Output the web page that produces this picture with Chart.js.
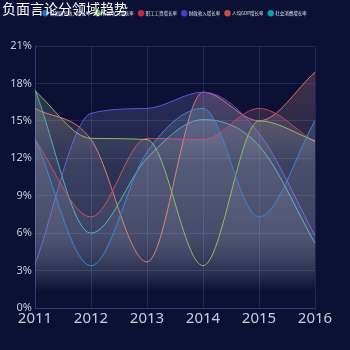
<!DOCTYPE html>
<html>
<head>
<meta charset="utf-8">
<script src="https://cdn.jsdelivr.net/npm/chart.js@4"></script>
<style>
  html, body { margin: 0; padding: 0; background: #0b1034; }
  #wrap { position: relative; width: 350px; height: 350px; }
  #title { position: absolute; left: 2px; top: -2px; color: #fff; font: 14px "Noto Sans CJK SC", sans-serif; }
</style>
</head>
<body>
<div id="wrap">
  <div id="title">负面言论分领域趋势</div>
  <canvas id="trendChart" width="350" height="350"></canvas>
</div>
<script>
"use strict";

// 数据
const years = ["2011", "2012", "2013", "2014", "2015", "2016"];
const seriesNames = ["城镇居民收入增长率", "农民收入增长率", "职工工资增长率", "财政收入增长率", "人均GDP增长率", "社会消费增长率"];
const townIncome = [13.6, 3.4, 12.5, 16.0, 7.3, 15.0];
const farmerIncome = [17.4, 13.6, 13.5, 3.4, 15.0, 13.4];
const wages = [13.5, 7.3, 13.6, 13.5, 16.0, 13.3];
const revenue = [3.5, 15.6, 16.0, 17.3, 14.0, 5.8];
const gdpPerCapita = [16.0, 13.5, 3.7, 17.3, 15.0, 18.9];
const consumption = [17.5, 6.0, 12.0, 15.1, 13.0, 5.2];
const yTicks = [0, 3, 6, 9, 12, 15, 18, 21];

const lineColors = ["#3a8ad8", "#8cbc5c", "#d4405c", "#6650d8", "#e2705a", "#22b2b2"];
const legendColors = ["#1c6ed2", "#5aa23c", "#c4283e", "#4a3cc8", "#c4503c", "#0aa0a8"];
const allData = [townIncome, farmerIncome, wages, revenue, gdpPerCapita, consumption];

function hexToRgba(hex, a) {
    let n = parseInt(hex.slice(1), 16);
    return "rgba(" + (n >> 16) + "," + ((n >> 8) & 255) + "," + (n & 255) + "," + a + ")";
}

// gradient fyllning
function makeFill(color) {
    return function(ctx) {
        let area = ctx.chart.chartArea;
        if (!area) return "transparent";
        let g = ctx.chart.ctx.createLinearGradient(0, area.top, 0, area.bottom);
        g.addColorStop(0, hexToRgba(color, 0.32));
        g.addColorStop(0.45, "rgba(190,195,215,0.1)");
        g.addColorStop(0.72, "rgba(190,195,215,0.08)");
        g.addColorStop(0.8, "rgba(190,195,215,0.06)");
        g.addColorStop(0.94, "rgba(190,195,215,0)");
        return g;
    };
}

const datasets = allData.map((d, i) => ({
    label: seriesNames[i],
    data: d,
    borderColor: lineColors[i],
    backgroundColor: makeFill(lineColors[i]),
    borderWidth: 1,
    pointRadius: 0,
    fill: "origin",
    cubicInterpolationMode: "monotone"
}));

// luft under legenden + centrera den över hela bredden
const legendSpace = {
    id: "legendSpace",
    beforeInit(chart) {
        const fit = chart.legend.fit;
        chart.legend.fit = function() {
            fit.call(this);
            this.height = 40;
        };
    },
    afterUpdate(chart) {
        chart.legend.left = 0;
        chart.legend.right = 350;
        chart.legend.width = 350;
        chart.legend.adjustHitBoxes();
    }
};

const chartEl = document.getElementById("trendChart");

new Chart(chartEl, {
    type: "line",
    data: { labels: years, datasets: datasets },
    plugins: [legendSpace],
    options: {
        responsive: false,
        animation: false,
        layout: { padding: { top: 6, right: 35, bottom: 0, left: 0 } },
        plugins: {
            legend: {
                display: true,
                labels: {
                    font: { size: 4.5, family: "Noto Sans CJK SC" },
                    color: "#e0e4f0",
                    usePointStyle: true,
                    pointStyle: "circle",
                    boxWidth: 5,
                    boxHeight: 5,
                    padding: 5,
                    generateLabels: function(chart) {
                        return seriesNames.map((n, i) => ({
                            text: n,
                            fillStyle: legendColors[i],
                            strokeStyle: legendColors[i],
                            lineWidth: 0,
                            pointStyle: "circle",
                            fontColor: "#e0e4f0",
                            datasetIndex: i
                        }));
                    }
                }
            },
            tooltip: { enabled: false }
        },
        scales: {
            x: {
                offset: false,
                grid: { color: "rgba(70,80,150,0.35)", drawTicks: false },
                border: { color: "rgba(70,80,150,0.5)" },
                ticks: { color: "#c8ccda", font: { size: 15, family: "Noto Sans" }, padding: 2, maxRotation: 0 },
                afterFit: function(axis) { axis.height = 42; }
            },
            y: {
                min: 0,
                max: 21,
                afterBuildTicks: function(axis) { axis.ticks = yTicks.map(v => ({ value: v })); },
                grid: { color: "rgba(70,80,150,0.35)", drawTicks: false },
                border: { color: "rgba(70,80,150,0.5)" },
                ticks: {
                    color: "#c8ccda",
                    font: { size: 11, family: "Noto Sans" },
                    padding: 3,
                    callback: v => v + "%"
                },
                afterFit: function(axis) { axis.width = 35; }
            }
        }
    }
});
</script>
</body>
</html>
